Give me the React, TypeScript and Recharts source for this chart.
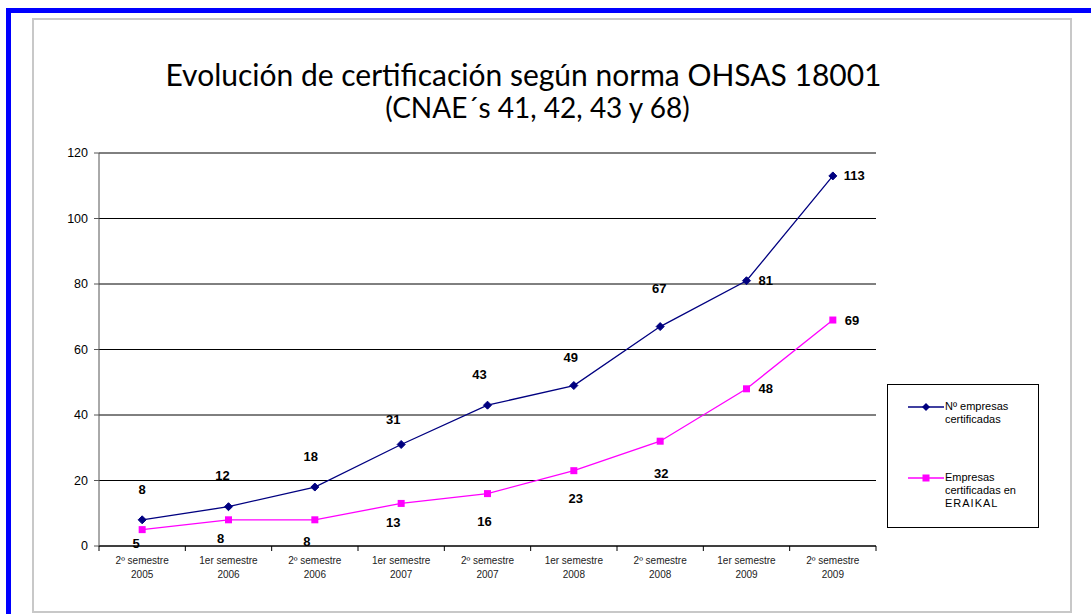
import React from "react";
import {
  LineChart,
  Line,
  XAxis,
  YAxis,
  CartesianGrid,
  ReferenceLine,
  LabelList,
} from "recharts";

const categories = [
  "2º semestre 2005",
  "1er semestre 2006",
  "2º semestre 2006",
  "1er semestre 2007",
  "2º semestre 2007",
  "1er semestre 2008",
  "2º semestre 2008",
  "1er semestre 2009",
  "2º semestre 2009",
];
const empresasCertificadas = [8, 12, 18, 31, 43, 49, 67, 81, 113];
const empresasEraikal = [5, 8, 8, 13, 16, 23, 32, 48, 69];
const yTicks = [0, 20, 40, 60, 80, 100, 120];

const titleLine1 = "Evolución de certificación según norma OHSAS 18001";
const titleLine2 = "(CNAE´s 41, 42, 43 y 68)";
const seriesName1 = ["Nº empresas", "certificadas"];
const seriesName2 = ["Empresas", "certificadas en", "ERAIKAL"];

const data = categories.map((c, i) => ({
  cat: c,
  a: empresasCertificadas[i],
  b: empresasEraikal[i],
}));

// label offsets (dx, dy) relative to each point, as placed in the original
const offsetsA: [number, number, string][] = [
  [0, -30, "middle"],
  [-6, -31, "middle"],
  [-4, -31, "middle"],
  [-8, -25, "middle"],
  [-8, -31, "middle"],
  [-3, -28, "middle"],
  [-1, -38, "middle"],
  [12, 0, "start"],
  [11, 0, "start"],
];
const offsetsB: [number, number, string][] = [
  [-6, 14, "middle"],
  [-8, 19, "middle"],
  [-8, 22, "middle"],
  [-8, 19, "middle"],
  [-3, 28, "middle"],
  [2, 28, "middle"],
  [1, 32, "middle"],
  [12, 0, "start"],
  [12, 0, "start"],
];

const BLUE = "#000080";
const PINK = "#FF00FF";
const FONT = "'Liberation Sans', Arial, sans-serif";

const makeLabel = (offsets: [number, number, string][]) => (props: any) => {
  const { x, y, value, index } = props;
  const o = offsets[index] || [0, -12, "middle"];
  return (
    <text
      x={x + o[0]}
      y={y + o[1]}
      textAnchor={o[2] as any}
      dominantBaseline="central"
      fontFamily={FONT}
      fontWeight="bold"
      fontSize={13}
      fill="#000"
    >
      {value}
    </text>
  );
};

const Diamond = (props: any) => {
  const { cx, cy } = props;
  if (cx == null || cy == null) return null;
  const r = 4;
  return (
    <path
      d={`M${cx},${cy - r}L${cx + r},${cy}L${cx},${cy + r}L${cx - r},${cy}Z`}
      fill={BLUE}
      stroke={BLUE}
    />
  );
};

const Square = (props: any) => {
  const { cx, cy } = props;
  if (cx == null || cy == null) return null;
  const r = 3.5;
  return <rect x={cx - r} y={cy - r} width={2 * r} height={2 * r} fill={PINK} />;
};

const XTick = (props: any) => {
  const { x, y, payload, index, visibleTicksCount } = props;
  const s: string = payload.value;
  const k = s.lastIndexOf(" ");
  const half = payload.offset || 0;
  const last = index === (visibleTicksCount || 9) - 1;
  return (
    <g>
      <line x1={x - half} x2={x - half} y1={y} y2={y + 5} stroke="#000" />
      {last ? <line x1={x + half} x2={x + half} y1={y} y2={y + 5} stroke="#000" /> : null}
      <text
        x={x}
        y={y + 17.5}
        textAnchor="middle"
        fontFamily={FONT}
        fontSize={10}
        fill="#222"
      >
        <tspan x={x} dy={0}>{s.slice(0, k)}</tspan>
        <tspan x={x} dy={14}>{s.slice(k + 1)}</tspan>
      </text>
    </g>
  );
};

export default function App() {
  return (
    <div
      style={{
        position: "absolute",
        left: 0,
        top: 0,
        width: 1091,
        height: 614,
        background: "#fff",
        overflow: "hidden",
      }}
    >
      {/* blue page frame */}
      <div style={{ position: "absolute", left: 6, top: 8, width: 1085, height: 5, background: "#0000FF" }} />
      <div style={{ position: "absolute", left: 6, top: 8, width: 5, height: 606, background: "#0000FF" }} />
      {/* chart frame */}
      <div
        style={{
          position: "absolute",
          left: 32,
          top: 18,
          width: 1036,
          height: 591,
          border: "2px solid #c8c8c8",
        }}
      />
      {/* title */}
      <div
        style={{
          position: "absolute",
          left: 0,
          top: 57,
          width: 1047,
          textAlign: "center",
          fontFamily: "Lato, 'Noto Sans', sans-serif",
          color: "#000",
        }}
      >
        <div style={{ fontSize: 30, lineHeight: "34px" }}>{titleLine1}</div>
        <div style={{ fontSize: 28, lineHeight: "32px", paddingLeft: 28 }}>{titleLine2}</div>
      </div>

      <div style={{ position: "absolute", left: 0, top: 0 }}>
        <LineChart
          width={1091}
          height={614}
          data={data}
          margin={{ top: 153, right: 215, bottom: 28, left: 59 }}
        >
          <CartesianGrid vertical={false} stroke="#000" strokeWidth={1} />
          <XAxis
            dataKey="cat"
            scale="band"
            height={40}
            interval={0}
            tickSize={0}
            tickMargin={0}
            tickLine={false}
            axisLine={{ stroke: "#000" }}
            tick={<XTick />}
          />
          <YAxis
            width={40}
            domain={[0, 120]}
            ticks={yTicks}
            interval={0}
            tickSize={5}
            tickMargin={6}
            tickLine={{ stroke: "#555" }}
            axisLine={{ stroke: "#555" }}
            tick={{ fontFamily: FONT, fontSize: 12.5, fill: "#000" }}
          />
          <YAxis
            yAxisId="r"
            orientation="right"
            width={0}
            domain={[0, 120]}
            tick={false}
            tickLine={false}
            axisLine={{ stroke: "#808080" }}
          />
          <ReferenceLine y={120} stroke="#808080" />
          <Line
            dataKey="a"
            stroke={BLUE}
            strokeWidth={1.3}
            dot={<Diamond />}
            activeDot={false}
            isAnimationActive={false}
          >
            <LabelList dataKey="a" content={makeLabel(offsetsA)} />
          </Line>
          <Line
            dataKey="b"
            stroke={PINK}
            strokeWidth={1.3}
            dot={<Square />}
            activeDot={false}
            isAnimationActive={false}
          >
            <LabelList dataKey="b" content={makeLabel(offsetsB)} />
          </Line>
        </LineChart>
      </div>

      {/* legend */}
      <div
        style={{
          position: "absolute",
          left: 887,
          top: 384,
          width: 152,
          height: 144,
          border: "1px solid #000",
          boxSizing: "border-box",
          fontFamily: FONT,
          fontSize: 11,
          lineHeight: "13px",
          color: "#000",
        }}
      >
        <svg style={{ position: "absolute", left: 20, top: 17 }} width={36} height={10}>
          <line x1={0} y1={5} x2={36} y2={5} stroke={BLUE} strokeWidth={1.3} />
          <path d="M18,1L22,5L18,9L14,5Z" fill={BLUE} />
        </svg>
        <div style={{ position: "absolute", left: 57, top: 15 }}>
          {seriesName1.map((t) => (
            <div key={t}>{t}</div>
          ))}
        </div>
        <svg style={{ position: "absolute", left: 20, top: 88 }} width={36} height={10}>
          <line x1={0} y1={5} x2={36} y2={5} stroke={PINK} strokeWidth={1.3} />
          <rect x={14.5} y={1.5} width={7} height={7} fill={PINK} />
        </svg>
        <div style={{ position: "absolute", left: 57, top: 86 }}>
          {seriesName2.map((t) => (
            <div key={t} style={{ letterSpacing: t === "ERAIKAL" ? 1 : 0 }}>{t}</div>
          ))}
        </div>
      </div>
    </div>
  );
}
